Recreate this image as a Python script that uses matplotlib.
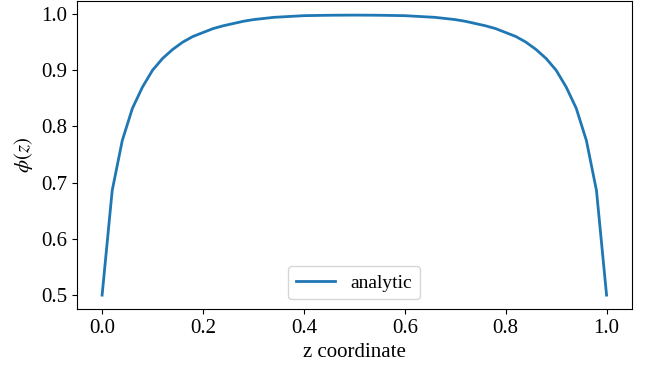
import numpy as np
import matplotlib.pyplot as plt

plt.rcParams['font.family'] = ['Liberation Serif', 'DejaVu Serif']
plt.rcParams['mathtext.fontset'] = 'stix'

# left half of the profile, z = 0 .. 0.5 step 0.02 (profile is symmetric)
phi_left = [0.500, 0.686, 0.775, 0.832, 0.870, 0.900, 0.921, 0.937, 0.950,
            0.960, 0.967, 0.974, 0.979, 0.983, 0.987, 0.990, 0.992, 0.994,
            0.995, 0.996, 0.997, 0.9973, 0.9976, 0.9978, 0.9979, 0.998]
phi = np.array(phi_left + phi_left[-2::-1])
z = np.linspace(0.0, 1.0, len(phi))

fig, ax = plt.subplots(figsize=(6.46, 3.68), dpi=100)
fig.subplots_adjust(left=0.119, right=0.978, top=0.997, bottom=0.160)

ax.plot(z, phi, color='#1f77b4', lw=2, label='analytic')
ax.set_xlabel('z coordinate', fontsize=15)
ax.set_ylabel(r'$\phi(z)$', fontsize=15)
ax.tick_params(labelsize=15)
ax.set_yticks([0.5, 0.6, 0.7, 0.8, 0.9, 1.0])
ax.legend(loc='lower center', fontsize=14)

fig.savefig('out.png')
